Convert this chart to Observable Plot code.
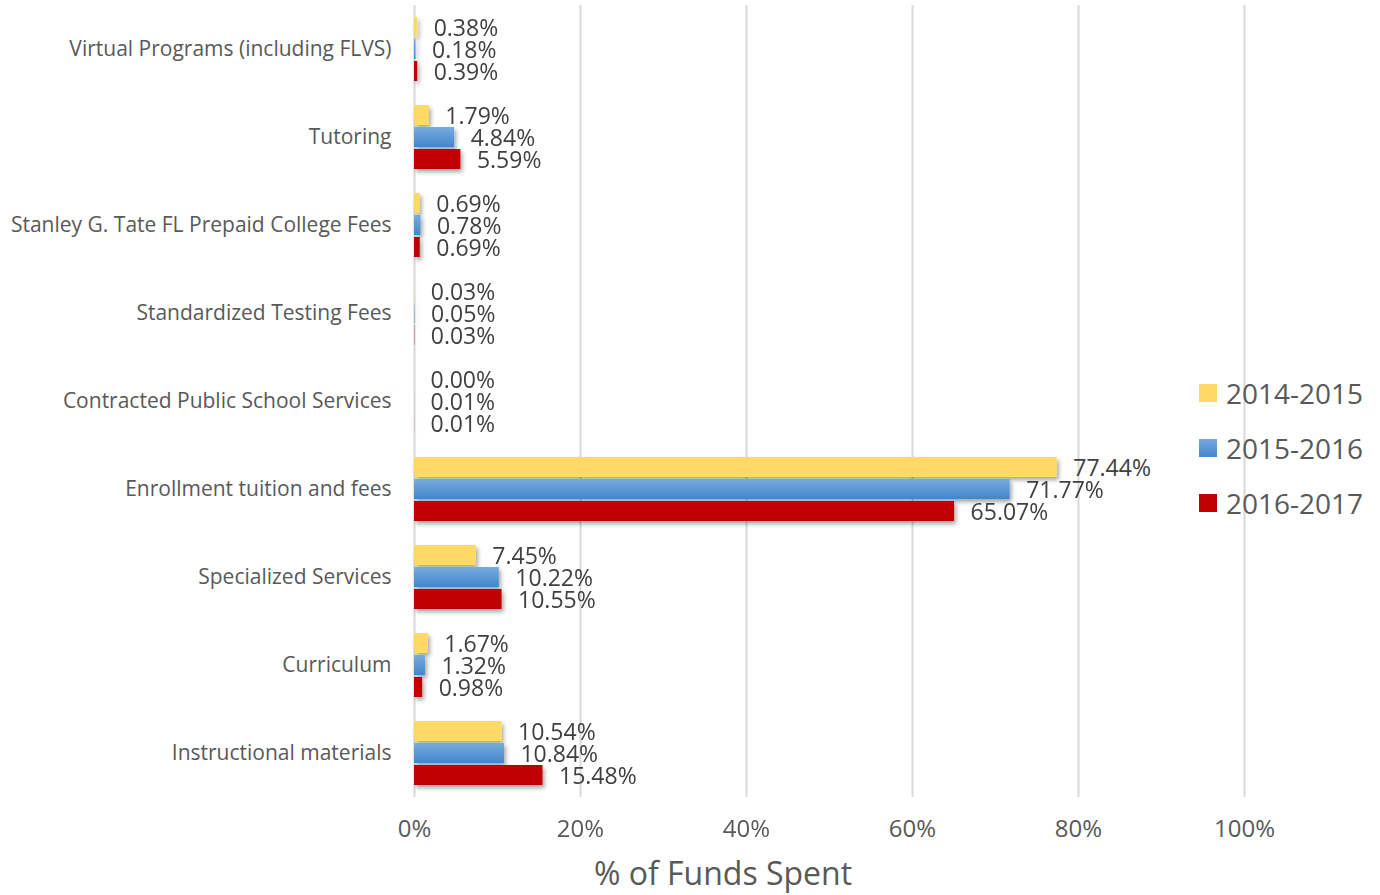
<!DOCTYPE html>
<html>
<head>
<meta charset="utf-8">
<script src="https://cdn.jsdelivr.net/npm/d3@7"></script>
<script src="https://cdn.jsdelivr.net/npm/@observablehq/plot@0.6"></script>
<style>
  html, body { margin: 0; padding: 0; background: #ffffff; }
  #wrap { position: relative; width: 1380px; height: 895px; font-family: "Open Sans", sans-serif; }
  #legend { position: absolute; left: 1199px; top: 365px; }
  .li { display: flex; align-items: center; height: 55px; font-size: 28px; color: #595959; }
  .sw { width: 18px; height: 18px; margin-right: 9px; }
  #xtitle { position: absolute; left: 0; width: 1446px; text-align: center; top: 851px; font-size: 32px; color: #595959; }
</style>
</head>
<body>
<div id="wrap">
  <div id="chart"></div>
  <div id="legend"></div>
  <div id="xtitle"></div>
</div>
<script>
const categories = [
  "Virtual Programs (including FLVS)",
  "Tutoring",
  "Stanley G. Tate FL Prepaid College Fees",
  "Standardized Testing Fees",
  "Contracted Public School Services",
  "Enrollment tuition and fees",
  "Specialized Services",
  "Curriculum",
  "Instructional materials"
];
const series = ["2014-2015", "2015-2016", "2016-2017"];
const values2014 = [0.38, 1.79, 0.69, 0.03, 0.00, 77.44, 7.45, 1.67, 10.54];
const values2015 = [0.18, 4.84, 0.78, 0.05, 0.01, 71.77, 10.22, 1.32, 10.84];
const values2016 = [0.39, 5.59, 0.69, 0.03, 0.01, 65.07, 10.55, 0.98, 15.48];
const xTicks = [0, 20, 40, 60, 80, 100];
const axisTitle = "% of Funds Spent";
const colors = ["#FFD966", "url(#blueGrad)", "#C00000"];
const legendColors = ["#FFD966", "linear-gradient(#73A9DE, #4586CC)", "#C00000"];

const seriesValues = [values2014, values2015, values2016];
const data = [];
categories.forEach((c, i) => {
  series.forEach((s, j) => data.push({category: c, series: s, value: seriesValues[j][i]}));
});

const chart = Plot.plot({
  width: 1380,
  height: 895,
  marginLeft: 414,
  marginRight: 136,
  marginTop: 5,
  marginBottom: 98,
  style: {fontFamily: "Open Sans", color: "#595959", background: "#ffffff", overflow: "visible"},
  x: {domain: [0, 100]},
  fy: {domain: categories, padding: 0, label: null, axis: null},
  y: {domain: series, paddingInner: 0.09, paddingOuter: 0.46, axis: null},
  color: {domain: series, range: colors},
  marks: [
    Plot.gridX(xTicks, {stroke: "#d9d9d9", strokeOpacity: 1, strokeWidth: 2}),
    Plot.barX(data, {x: "value", y: "series", fy: "category", fill: "series"}),
    Plot.text(data, {x: "value", y: "series", fy: "category",
      text: d => d.value.toFixed(2) + "%", textAnchor: "start", dx: 16, dy: 1,
      fontSize: 23, fill: "#404040"}),
    Plot.axisX({ticks: xTicks, tickFormat: d => d + "%", tickSize: 0, tickPadding: 22,
      fontSize: 24, label: null, fill: "#595959"}),
    Plot.axisFy({anchor: "left", tickSize: 0, tickPadding: 23, fontSize: 21, label: null, fill: "#595959"})
  ]
});

const svg = d3.select(chart);
const defs = svg.insert("defs", ":first-child");
const g = defs.append("linearGradient").attr("id", "blueGrad").attr("x1", 0).attr("y1", 0).attr("x2", 0).attr("y2", 1);
g.append("stop").attr("offset", "0%").attr("stop-color", "#76ACE0");
g.append("stop").attr("offset", "100%").attr("stop-color", "#4385CB");
const f = defs.append("filter").attr("id", "shadow").attr("x", "-5%").attr("y", "-30%").attr("width", "120%").attr("height", "180%");
f.append("feDropShadow").attr("dx", 2).attr("dy", 3).attr("stdDeviation", 2).attr("flood-color", "#000").attr("flood-opacity", 0.35);
svg.selectAll('g[aria-label="bar"]').attr("filter", "url(#shadow)");

document.getElementById("chart").appendChild(chart);
document.getElementById("xtitle").textContent = axisTitle;
const legend = d3.select("#legend");
series.forEach((s, i) => {
  const row = legend.append("div").attr("class", "li");
  row.append("div").attr("class", "sw").style("background", legendColors[i]);
  row.append("span").text(s);
});
</script>
</body>
</html>
